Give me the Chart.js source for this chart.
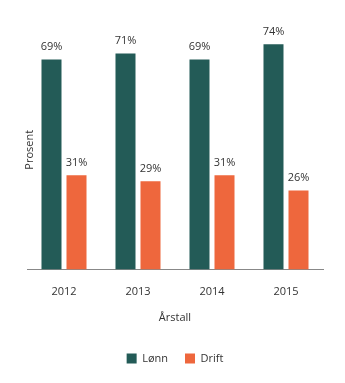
<!DOCTYPE html>
<html>
<head>
<meta charset="utf-8">
<script src="https://cdn.jsdelivr.net/npm/chart.js@4"></script>
<style>
  html, body { margin: 0; padding: 0; background: #fff; }
  #wrap { width: 345px; height: 383px; }
</style>
</head>
<body>
<div id="wrap"><canvas id="myChart"></canvas></div>
<script>
// data
var years = ["2012", "2013", "2014", "2015"];
var lonn = [69, 71, 69, 74];
var drift = [31, 29, 31, 26];
var yTitle = "Prosent";

Chart.defaults.font.family = "'Open Sans', sans-serif";
Chart.defaults.font.size = 11;
Chart.defaults.color = "#333";

// prosent over stolpene + y-tittel
var labelPlugin = {
  id: "labelPlugin",
  afterDatasetsDraw: function (chart) {
    var ctx = chart.ctx;
    ctx.save();
    ctx.font = "11px 'Open Sans', sans-serif";
    ctx.fillStyle = "#333";
    ctx.textAlign = "center";
    ctx.textBaseline = "bottom";
    chart.data.datasets.forEach(function (ds, i) {
      chart.getDatasetMeta(i).data.forEach(function (bar, j) {
        ctx.fillText(ds.data[j] + "%", bar.x, bar.y - 7);
      });
    });
    // y title
    var area = chart.chartArea;
    ctx.translate(30, (area.top + area.bottom) / 2 + 2);
    ctx.rotate(-Math.PI / 2);
    ctx.textBaseline = "middle";
    ctx.fillText(yTitle, 0, 0);
    ctx.restore();
  }
};

var ctx = document.getElementById("myChart").getContext("2d");
var chart = new Chart(ctx, {
  type: "bar",
  data: {
    labels: years,
    datasets: [
      {
        label: "Lønn",
        data: lonn,
        backgroundColor: "#235b57",
        categoryPercentage: 0.676,
        barPercentage: 0.8
      },
      {
        label: "Drift",
        data: drift,
        backgroundColor: "#ee673d",
        categoryPercentage: 0.676,
        barPercentage: 0.8
      }
    ]
  },
  options: {
    responsive: true,
    maintainAspectRatio: false,
    animation: false,
    layout: { padding: { top: 26, right: 22, left: 27, bottom: 9 } },
    scales: {
      x: {
        grid: { display: false },
        border: { color: "#888", width: 1 },
        ticks: { padding: 8, color: "#333" },
        title: { display: true, text: "Årstall", color: "#333", padding: { top: 4, bottom: 12 } }
      },
      y: {
        display: false,
        min: 0,
        max: 80
      }
    },
    plugins: {
      legend: {
        position: "bottom",
        labels: { boxWidth: 10, boxHeight: 10, padding: 17, color: "#333" }
      },
      tooltip: { enabled: false }
    }
  },
  plugins: [labelPlugin]
});
</script>
</body>
</html>
